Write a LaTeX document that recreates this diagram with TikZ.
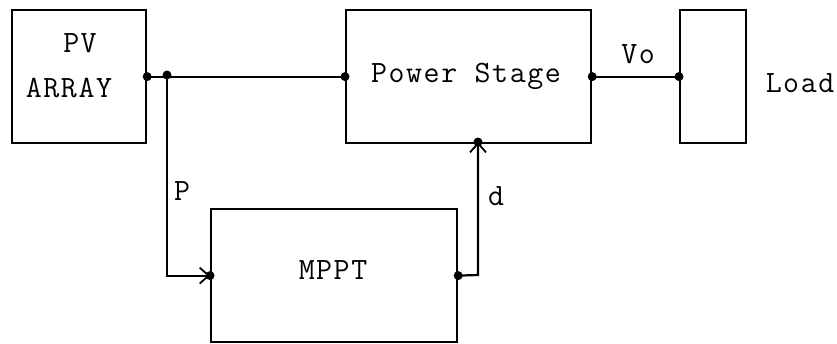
\documentclass[tikz,border=0pt]{standalone}
\usepackage{fontspec}
\setmainfont{Latin Modern Mono}[LetterSpace=5]
\usetikzlibrary{arrows.meta}
\begin{document}
\begin{tikzpicture}[x=1pt,y=-1pt,
  blk/.style={draw,line width=2.2pt,inner sep=0pt,anchor=north west},
  lbl/.style={anchor=base,inner sep=0pt,font=\fontsize{31}{33}\selectfont},
  wire/.style={line width=2.2pt},
  dot/.style={circle,fill,inner sep=0pt,minimum size=9pt},
  arr/.style={wire,-{Straight Barb[length=9pt,width=16pt,line width=1.8pt]}}]
\useasboundingbox (0,0) rectangle (837,343);
% blocks
\node[blk,minimum width=134pt,minimum height=133pt] (pv) at (11,9) {};
\node[blk,minimum width=245pt,minimum height=133pt] (ps) at (345,9) {};
\node[blk,minimum width=66pt,minimum height=133pt] (load) at (679,9) {};
\node[blk,minimum width=246pt,minimum height=133pt] (mppt) at (210,208) {};
% texts
\node[lbl] (tpv) at (80,52) {PV};
\node[lbl] (tarr) at (69,97) {ARRAY};
\node[lbl] (tps) at (466,82) {Power Stage};
\node[lbl] (tvo) at (638,63) {Vo};
\node[lbl] (tload) at (800,92) {Load};
\node[lbl] (tmppt) at (333,279) {MPPT};
\node[lbl] (tp) at (182,200) {P};
\node[lbl] (td) at (496,205) {d};
% coordinates
\coordinate (a) at (pv.east);
\coordinate (j) at (167,75);
\coordinate (b) at (ps.west);
\coordinate (c) at (ps.east);
\coordinate (e) at (load.west);
\coordinate (m) at (mppt.west);
\coordinate (mo) at (mppt.east);
\coordinate (dd) at (478,275);
\coordinate (pin) at (478,142);
% wires
\draw[wire] (a) -- (b);
\draw[wire] (c) -- (e);
\draw[arr] (j) |- (m);
\draw[arr] (mo) -- (dd) -- (pin);
% dots
\foreach \p in {a,j,b,c,e,m,mo,pin} \node[dot] at (\p) {};
\end{tikzpicture}
\end{document}
